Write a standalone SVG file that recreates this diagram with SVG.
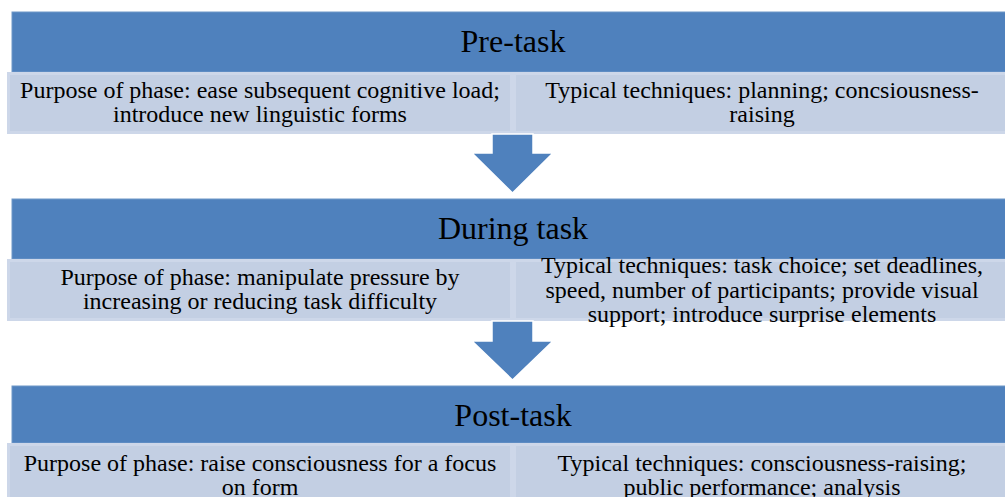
<svg xmlns="http://www.w3.org/2000/svg" width="1005" height="497" viewBox="0 0 1005 497">
<style>
.hdr{fill:#4F81BD;stroke:#6F97C8;stroke-width:1}
.sub{fill:#C3CFE3;stroke:#CDD7E9;stroke-width:3}
.arr{fill:#4F81BD;stroke:#FFFFFF;stroke-width:1.5}
.ht{font-family:"Liberation Serif",serif;font-size:32px;fill:#000;text-anchor:middle}
.st{font-family:"Liberation Serif",serif;font-size:24px;fill:#000;text-anchor:middle}
</style>
<rect width="1005" height="497" fill="#FFFFFF"/>
<g id="pre-task">
<rect class="hdr" x="12" y="12" width="1000" height="60"/>
<text class="ht" x="513" y="52">Pre-task</text>
<rect class="sub" x="8.5" y="73.5" width="503" height="59"/>
<rect class="sub" x="514.5" y="73.5" width="500" height="59"/>
<text class="st" x="260" y="98">Purpose of phase: ease subsequent cognitive load;</text>
<text class="st" x="260" y="122">introduce new linguistic forms</text>
<text class="st" x="762" y="98">Typical techniques: planning; concsiousness-</text>
<text class="st" x="762" y="122">raising</text>
</g>
<g id="during-task">
<rect class="hdr" x="12" y="199" width="1000" height="60"/>
<text class="ht" x="513" y="239">During task</text>
<rect class="sub" x="8.5" y="260.5" width="503" height="59"/>
<rect class="sub" x="514.5" y="260.5" width="500" height="59"/>
<text class="st" x="260" y="285">Purpose of phase: manipulate pressure by</text>
<text class="st" x="260" y="309">increasing or reducing task difficulty</text>
</g>
<g id="connectors">
<polygon class="arr" points="492,134 533,134 533,153 553,153 512.5,193 472,153 492,153"/>
<polygon class="arr" points="492,321 533,321 533,341 553,341 512.5,380 472,341 492,341"/>
</g>
<g id="during-task-text">
<text class="st" x="762" y="273">Typical techniques: task choice; set deadlines,</text>
<text class="st" x="762" y="298">speed, number of participants; provide visual</text>
<text class="st" x="762" y="322">support; introduce surprise elements</text>
</g>
<g id="post-task">
<rect class="hdr" x="12" y="386" width="1000" height="57"/>
<text class="ht" x="513" y="426">Post-task</text>
<rect class="sub" x="8.5" y="444.5" width="503" height="60"/>
<rect class="sub" x="514.5" y="444.5" width="500" height="60"/>
<text class="st" x="260" y="471">Purpose of phase: raise consciousness for a focus</text>
<text class="st" x="260" y="495">on form</text>
<text class="st" x="762" y="471">Typical techniques:  consciousness-raising;</text>
<text class="st" x="762" y="495">public performance; analysis</text>
</g>
</svg>
